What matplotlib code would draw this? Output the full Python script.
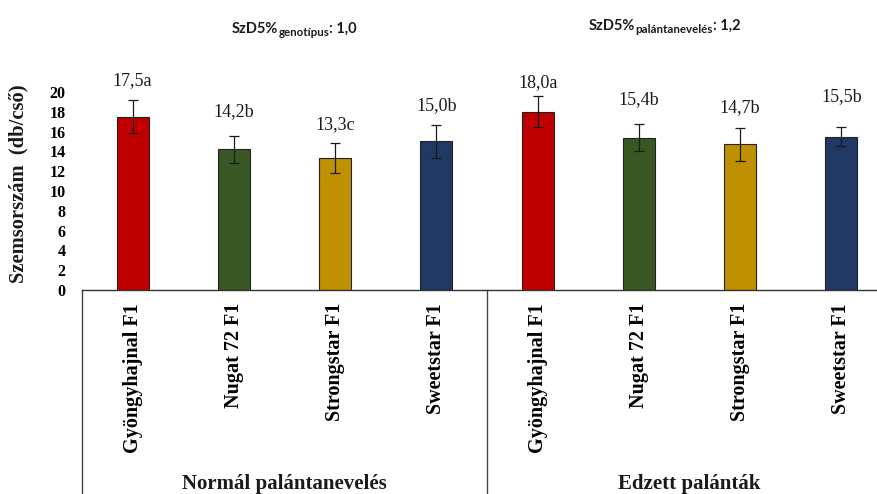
import matplotlib
matplotlib.use("Agg")
import matplotlib.pyplot as plt
import matplotlib.transforms as mtransforms
import numpy as np

# Data
genotypes = ["Gyöngyhajnal F1", "Nugat 72 F1", "Strongstar F1", "Sweetstar F1"]
groups = ["Normál palántanevelés", "Edzett palánták"]
mean_normal = [17.5, 14.2, 13.3, 15.0]
mean_edzett = [18.0, 15.4, 14.7, 15.5]
err_normal = [1.65, 1.35, 1.5, 1.65]
err_edzett = [1.55, 1.35, 1.65, 0.95]
letters_normal = ["a", "b", "c", "b"]
letters_edzett = ["a", "b", "b", "b"]
yticks = list(range(0, 21, 2))
lsd_genotype = "1,0"
lsd_growing = "1,2"

# Styling
bar_colors = ["#C00000", "#385723", "#BF9000", "#1F3864"]
label_gap = [2.05, 2.45, 1.9, 1.95, 1.45, 2.45, 2.05, 3.05]  # label height above error bar (data units)

serif = ["Liberation Serif", "DejaVu Serif"]
sans = ["Lato", "DejaVu Sans"]

W, H = 878, 494
fig = plt.figure(figsize=(W / 100, H / 100), dpi=100)
ax = fig.add_axes([82 / W, (H - 290) / H, 810 / W, 198 / H])

means = mean_normal + mean_edzett
errs = err_normal + err_edzett
letters = letters_normal + letters_edzett
labels = genotypes + genotypes
colors = bar_colors + bar_colors
x = np.arange(len(means))

ax.bar(x, means, width=0.316, color=colors, edgecolor="#222222", linewidth=0.8, zorder=2)
ax.errorbar(x, means, yerr=errs, fmt="none", ecolor="#1a1a1a", elinewidth=0.9,
            capsize=3.5, capthick=0.9, zorder=3)

for xi, m, e, lt, g in zip(x, means, errs, letters, label_gap):
    txt = f"{m:.1f}".replace(".", ",") + lt
    ax.text(xi, m + e + g, txt, ha="center", va="center", fontsize=13,
            family=serif, color="#1a1a1a")

ax.set_xlim(-0.5, len(means) - 0.5)
ax.set_ylim(0, 20)
ax.set_yticks(yticks)
ax.set_yticklabels([str(t) for t in yticks], fontsize=11.5, fontweight="bold", family=serif)
ax.tick_params(axis="y", length=0, pad=12)
ax.set_xticks(x)
ax.set_xticklabels(labels, rotation=90, fontsize=14.5, fontweight="bold", family=serif)
ax.tick_params(axis="x", length=0, pad=9.5)

for s in ["left", "right", "top"]:
    ax.spines[s].set_visible(False)
ax.spines["bottom"].set_color("#333333")
ax.spines["bottom"].set_linewidth(1.0)

# Group separators below the category axis
trans = ax.get_xaxis_transform()
for xb in [-0.5, 3.5, 7.5]:
    ax.plot([xb, xb], [0, -1.2], transform=trans, color="#444444", lw=1.0, clip_on=False)

# Group labels, near the bottom edge of the figure
group_trans = mtransforms.blended_transform_factory(ax.transData, fig.transFigure)
for gi, gname in enumerate(groups):
    ax.text(gi * 4 + 1.5, 5 / H, gname, transform=group_trans, fontsize=15, fontweight="bold",
            family=serif, ha="center", va="baseline", color="#1a1a1a", zorder=5)

# Y label
fig.text(18 / W, 1 - 184 / H, "Szemsorszám  (db/cső)", rotation=90, ha="center", va="center",
         fontsize=14.8, fontweight="bold", family=serif, color="#1a1a1a")


def lsd_label(x0, base_px, sub, val):
    t1 = fig.text(x0 / W, 1 - base_px / H, "SzD5%", fontsize=10.5, fontweight="bold",
                  family=sans, ha="left", va="baseline", color="#1a1a1a")
    t2 = fig.text(0, 0, sub, fontsize=8.3, fontweight="bold", family=sans, ha="left",
                  va="baseline", color="#1a1a1a")
    t3 = fig.text(0, 0, ": " + val, fontsize=10.5, fontweight="bold", family=sans,
                  ha="left", va="baseline", color="#1a1a1a")
    fig.canvas.draw()
    r = fig.canvas.get_renderer()
    b1 = t1.get_window_extent(r)
    t2.set_position((b1.x1 / W, 1 - (base_px + 3) / H))
    b2 = t2.get_window_extent(r)
    t3.set_position((b2.x1 / W, 1 - base_px / H))


lsd_label(232, 33, "genotípus", lsd_genotype)
lsd_label(589, 30, "palántanevelés", lsd_growing)

fig.savefig("out.png", dpi=100)
